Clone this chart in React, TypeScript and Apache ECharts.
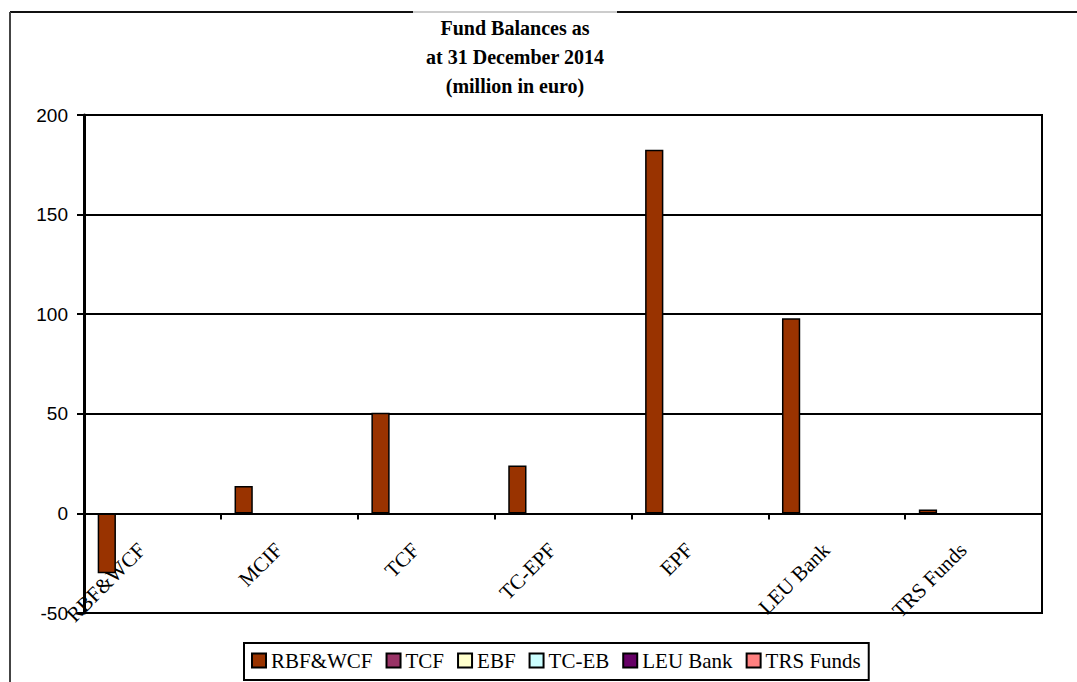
import React, { useEffect, useRef } from "react";
import * as echarts from "echarts";

const titleLines = ["Fund Balances as", "at 31 December 2014", "(million in euro)"];
const categories = ["RBF&WCF", "MCIF", "TCF", "TC-EPF", "EPF", "LEU Bank", "TRS Funds"];
const seriesNames = ["RBF&WCF", "TCF", "EBF", "TC-EB", "LEU Bank", "TRS Funds"];
const seriesColors = ["#993300", "#993366", "#FFFFCC", "#CCFFFF", "#660066", "#FF8080"];
const rbfWcfValues = [-30, 13.7, 50.5, 24, 182.5, 98, 2];
const tcfValues = [null, null, null, null, null, null, null];
const ebfValues = [null, null, null, null, null, null, null];
const tcEbValues = [null, null, null, null, null, null, null];
const leuBankValues = [null, null, null, null, null, null, null];
const trsFundsValues = [null, null, null, null, null, null, null];
const seriesValues = [rbfWcfValues, tcfValues, ebfValues, tcEbValues, leuBankValues, trsFundsValues];
const yMin = -50;
const yMax = 200;
const yInterval = 50;

export default function App() {
  const ref = useRef<HTMLDivElement>(null);

  useEffect(() => {
    if (!ref.current) return;
    const chart = echarts.init(ref.current, null, { renderer: "svg" });
    const serif = "Liberation Serif";
    const sans = "Liberation Sans";

    chart.setOption({
      animation: false,
      backgroundColor: "#ffffff",
      grid: {
        left: 84,
        right: 35,
        top: 115,
        bottom: 69,
        containLabel: false,
        outerBoundsMode: "none",
        show: true,
        borderColor: "#000",
        borderWidth: 2,
        backgroundColor: "transparent",
      },
      graphic: [
        { type: "line", shape: { x1: 10, y1: 12, x2: 413, y2: 12 }, style: { stroke: "#111", lineWidth: 2 } },
        { type: "line", shape: { x1: 413, y1: 12, x2: 617, y2: 12 }, style: { stroke: "#999", lineWidth: 1 } },
        { type: "line", shape: { x1: 617, y1: 12, x2: 1077, y2: 12 }, style: { stroke: "#111", lineWidth: 2 } },
        { type: "line", shape: { x1: 10, y1: 12, x2: 10, y2: 682 }, style: { stroke: "#444", lineWidth: 2 } },
        {
          type: "text",
          x: 515,
          y: 13,
          style: {
            text: titleLines.join("\n"),
            align: "center",
            verticalAlign: "top",
            fontFamily: serif,
            fontWeight: "bold",
            fontSize: 20,
            lineHeight: 29,
            fill: "#000",
          },
        },
      ],
      legend: {
        data: seriesNames,
        left: 244,
        top: 643,
        orient: "horizontal",
        icon: "rect",
        itemWidth: 14,
        itemHeight: 14,
        itemGap: 13,
        padding: [7, 8, 9, 7],
        borderColor: "#000",
        borderWidth: 2,
        backgroundColor: "#fff",
        itemStyle: { borderColor: "#000", borderWidth: 2 },
        textStyle: { fontFamily: serif, fontSize: 21, color: "#000" },
      },
      xAxis: {
        type: "category",
        data: categories,
        axisLine: { onZero: true, lineStyle: { color: "#000", width: 2 } },
        axisTick: { show: true, interval: 0, alignWithLabel: false, length: 6, lineStyle: { color: "#000", width: 2 } },
        axisLabel: {
          interval: 0,
          rotate: 45,
          margin: -77,
          padding: [0, 15, 0, 0],
          fontFamily: serif,
          fontSize: 21,
          color: "#000",
        },
        splitLine: { show: false },
      },
      yAxis: {
        type: "value",
        min: yMin,
        max: yMax,
        interval: yInterval,
        axisLine: { show: true, lineStyle: { color: "#000", width: 3 } },
        axisTick: { show: true, length: 7, lineStyle: { color: "#000", width: 2 } },
        axisLabel: { margin: 16, fontFamily: sans, fontSize: 19, color: "#000" },
        splitLine: { show: true, lineStyle: { color: "#000", width: 2 } },
      },
      series: seriesNames.map((name, i) => ({
        name,
        type: "bar",
        data: seriesValues[i],
        barGap: "0%",
        barCategoryGap: "20%",
        itemStyle: { color: seriesColors[i], borderColor: "#000", borderWidth: 1.5 },
      })),
    });

    return () => chart.dispose();
  }, []);

  return (
    <div
      ref={ref}
      style={{ position: "absolute", left: 0, top: 0, width: 1077, height: 682 }}
    />
  );
}
